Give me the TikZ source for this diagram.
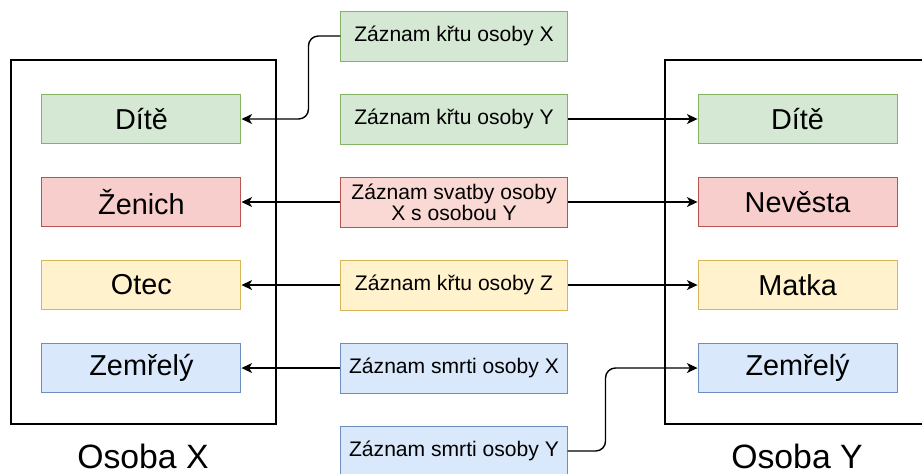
\documentclass[tikz,border=0pt]{standalone}
\usepackage{fontspec}
\setmainfont{Liberation Sans}
\usetikzlibrary{arrows.meta, positioning}
\definecolor{rolegreen}{HTML}{D5E8D4}
\definecolor{rolegreenline}{HTML}{82B366}
\definecolor{rolered}{HTML}{F8CECC}
\definecolor{roleredline}{HTML}{B85450}
\definecolor{recred}{HTML}{FAD9D5}
\definecolor{roleyellow}{HTML}{FFF2CC}
\definecolor{roleyellowline}{HTML}{D6B656}
\definecolor{roleblue}{HTML}{DAE8FC}
\definecolor{roleblueline}{HTML}{6C8EBF}

\begin{document}
\begin{tikzpicture}[
    x=0.025cm, y=-0.025cm,
    node distance=0.8cm and 2.475cm,
    rolebox/.style={draw, line width=0.7pt, minimum width=4.975cm, minimum height=1.23cm, font=\fontsize{20.5}{24}\selectfont},
    recbox/.style={draw, line width=0.7pt, minimum width=5.65cm, minimum height=1.25cm, align=center, font=\fontsize{15}{17}\selectfont},
    greenbox/.style={fill=rolegreen, draw=rolegreenline},
    redbox/.style={fill=rolered, draw=roleredline},
    yellowbox/.style={fill=roleyellow, draw=roleyellowline},
    bluebox/.style={fill=roleblue, draw=roleblueline},
    personframe/.style={draw, line width=1pt},
    personlabel/.style={font=\fontsize{24}{28}\selectfont},
    recline/.style={-{Stealth[length=7.5pt, width=7pt, inset=2pt]}, line width=1pt, rounded corners=7pt}
  ]
    \useasboundingbox (0,0) rectangle (922,474);

    % osoby
    \draw[personframe] (11,60) rectangle (276,424);
    \draw[personframe] (922,60) -| (665,424) -- (922,424);
    \node[personlabel] (osobax) at (143,456) {Osoba X};
    \node[personlabel] (osobay) at (797,456) {Osoba Y};

    % zaznamy
    \node[recbox, greenbox] (krtx) at (454,36) {Záznam křtu osoby X};
    \node[recbox, greenbox, below=of krtx] (krty) {Záznam křtu osoby Y};
    \node[recbox, fill=recred, draw=roleredline, below=of krty] (svatba) {Záznam svatby osoby\\[-2pt]X s osobou Y};
    \node[recbox, yellowbox, below=of svatba] (krtz) {Záznam křtu osoby Z};
    \node[recbox, bluebox, below=of krtz] (smrtix) {Záznam smrti osoby X};
    \node[recbox, bluebox, below=of smrtix] (smrtiy) {Záznam smrti osoby Y};

    % role osoby X
    \node[rolebox, greenbox, left=of krty] (ditex) {Dítě};
    \node[rolebox, redbox, left=of svatba] (zenich) {Ženich};
    \node[rolebox, yellowbox, left=of krtz] (otec) {Otec};
    \node[rolebox, bluebox, left=of smrtix] (zemrelyx) {Zemřelý};

    % role osoby Y
    \node[rolebox, greenbox, right=3.25cm of krty] (ditey) {Dítě};
    \node[rolebox, redbox, right=3.25cm of svatba] (nevesta) {Nevěsta};
    \node[rolebox, yellowbox, right=3.25cm of krtz] (matka) {Matka};
    \node[rolebox, bluebox, right=3.25cm of smrtix] (zemrelyy) {Zemřelý};

    \draw[recline] (krtx.west) -- ++(-32,0) |- (ditex.east);
    \draw[recline] (krty) -- (ditey);
    \draw[recline] (svatba) -- (zenich);
    \draw[recline] (svatba) -- (nevesta);
    \draw[recline] (krtz) -- (otec);
    \draw[recline] (krtz) -- (matka);
    \draw[recline] (smrtix) -- (zemrelyx);
    \draw[recline] (smrtiy.east) -- ++(38,0) |- (zemrelyy.west);
\end{tikzpicture}
\end{document}
